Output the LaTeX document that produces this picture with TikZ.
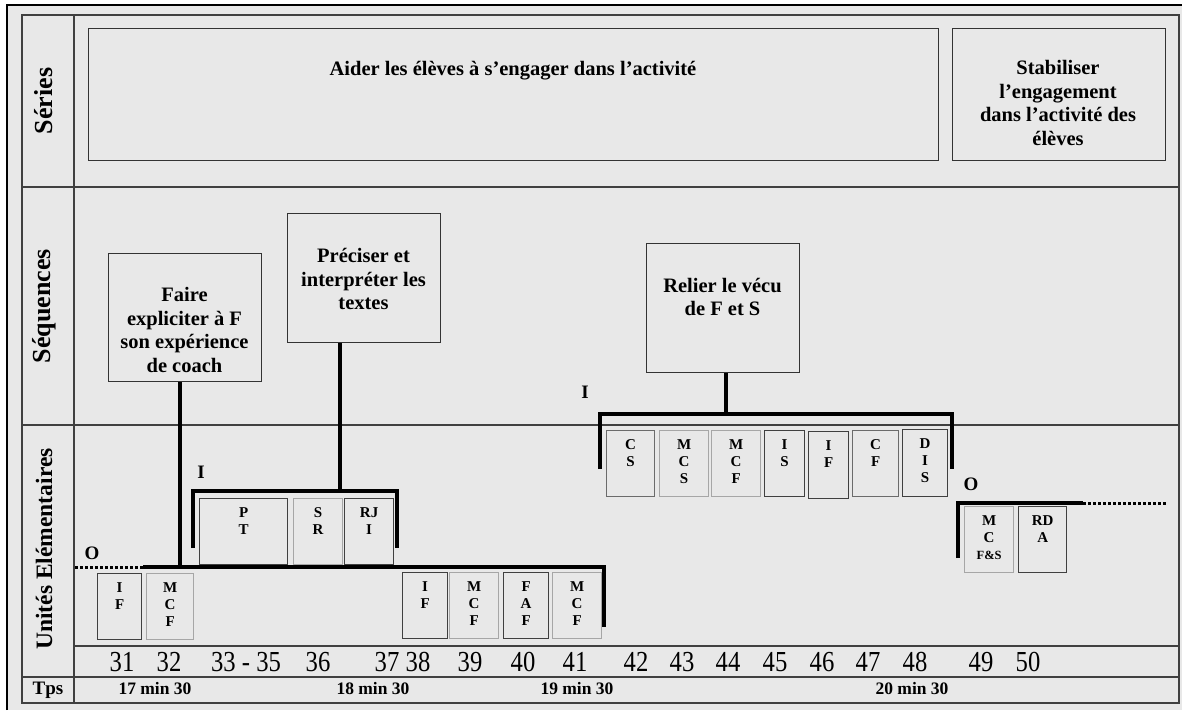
\documentclass[tikz,border=0pt]{standalone}
\usepackage{fontspec}
\usepackage{graphicx}
\setmainfont{Liberation Serif}
\definecolor{bggray}{RGB}{232,232,232}
\tikzset{
  tline/.style={draw=black!75, line width=1.3pt},
  brk/.style={line width=3.5pt, draw=black},
  dotl/.style={line width=3pt, draw=black, dash pattern=on 3pt off 2pt},
  seqbox/.style={draw=black!80, line width=1.3pt, rectangle, inner sep=0pt},
  seqtxt/.style={font=\fontsize{20.5}{23.5}\selectfont\bfseries, align=center, inner sep=0pt},
  uedark/.style={draw=black!75, line width=1.3pt, rectangle, inner sep=0pt},
  uemid/.style={draw=black!58, line width=1.3pt, rectangle, inner sep=0pt},
  uelight/.style={draw=black!35, line width=1.3pt, rectangle, inner sep=0pt},
  uetxt/.style={font=\fontsize{15}{17}\selectfont\bfseries, align=center, inner sep=0pt},
  num/.style={font=\fontsize{29}{29}\selectfont, inner sep=0pt},
  tps/.style={font=\fontsize{17.5}{17.5}\selectfont\bfseries, inner sep=0pt},
  rowlab/.style={font=\fontsize{26}{26}\selectfont\bfseries, rotate=90, inner sep=0pt},
  brklab/.style={font=\fontsize{19}{19}\selectfont\bfseries, inner sep=0pt}
}
\newcommand\uebx[7]{%
  \node[#2, minimum width={#5-#3}, minimum height={#6-#4}, anchor=north west] (#1) at (#3,#4) {};
  \node[uetxt, anchor=north] (#1t) at ([yshift=-9pt]#1.north) {#7};
}
\newcommand\boxat[6]{%
  \node[#2, minimum width={#5-#3}, minimum height={#6-#4}, anchor=north west] (#1) at (#3,#4) {};
}
\begin{document}
\begin{tikzpicture}[x=1pt,y=-1pt]
\useasboundingbox (0,0) rectangle (1182,710);
\fill[white] (0,0) rectangle (1182,710);
\fill[bggray] (7,5) rectangle (1182,710);
\draw[black, line width=2pt] (7,710) -- (7,5) -- (1182,5);

% table
\draw[tline] (22,15) rectangle (1179,703);
\draw[tline] (74,15) -- (74,703);
\draw[tline] (22,187) -- (1179,187);
\draw[tline] (22,425) -- (1179,425);
\draw[tline] (74,646) -- (1179,646);
\draw[tline] (22,677) -- (1179,677);

% row labels
\node[rowlab] (lser) at (44,101) {Séries};
\node[rowlab] (lseq) at (44,306) {Séquences};
\node[rowlab, font=\fontsize{23.5}{23.5}\selectfont\bfseries] (lue) at (44,549) {Unités Elémentaires};
\node[font=\fontsize{19}{19}\selectfont\bfseries, inner sep=0pt] (ltps) at (48,690) {Tps};

% series
\boxat{aider}{seqbox}{88}{28}{938}{160}
\node[seqtxt] (aidert) at (513,71) {Aider les élèves à s’engager dans l’activité};
\boxat{stab}{seqbox}{952}{28}{1165}{160}
\node[seqtxt] (stabt) at (1058,103) {Stabiliser\\l’engagement\\dans l’activité des\\élèves};

% sequences
\boxat{faire}{seqbox}{108}{253}{261}{381}
\node[seqtxt] (fairet) at (184.5,330) {Faire\\expliciter à F\\son expérience\\de coach};
\boxat{preciser}{seqbox}{287}{213}{440}{342}
\node[seqtxt] (preciset) at (363.5,279) {Préciser et\\interpréter les\\textes};
\boxat{relier}{seqbox}{646}{243}{799}{372}
\node[seqtxt] (reliert) at (722.5,297) {Relier le vécu\\de F et S};

% connectors and brackets
\coordinate (oJ) at (180,567);
\coordinate (oL) at (143,567);
\coordinate (oS) at (75,567);
\coordinate (oR) at (604,627);
\draw[brk] (faire.south -| oJ) -- (oJ);
\draw[dotl] (oS) -- (oL);
\draw[brk] (oL) -| (oR);

\coordinate (iJ1) at (340,491);
\coordinate (i1L) at (193,548);
\coordinate (i1R) at (397,548);
\draw[brk] (preciser.south -| iJ1) -- (iJ1);
\draw[brk] (i1L) |- (iJ1) -| (i1R);

\coordinate (iJ2) at (726,414);
\coordinate (i2L) at (600,469);
\coordinate (i2R) at (952,469);
\draw[brk] (relier.south -| iJ2) -- (iJ2);
\draw[brk] (i2L) |- (iJ2) -| (i2R);

\coordinate (o2L) at (958,558);
\coordinate (o2M) at (1083,503);
\coordinate (o2E) at (1167,503);
\draw[brk] (o2L) |- (o2M);
\draw[dotl] (o2M) -- (o2E);

\node[brklab] (lO1) at (92,553) {O};
\node[brklab] (lI1) at (201,472) {I};
\node[brklab] (lI2) at (585,392) {I};
\node[brklab] (lO2) at (971,484) {O};

% elementary units
\uebx{u31}{uedark}{97}{573}{141}{639}{I\\F}
\uebx{u32}{uelight}{146}{573}{193}{639}{M\\C\\F}
\uebx{u33}{uedark}{199}{498}{287}{564}{P\\T}
\uebx{u36}{uelight}{293}{498}{342}{564}{S\\R}
\uebx{u37}{uedark}{344}{498}{393}{564}{RJ\\I}
\uebx{u38}{uedark}{402}{572}{447}{638}{I\\F}
\uebx{u39}{uelight}{449}{572}{498}{638}{M\\C\\F}
\uebx{u40}{uedark}{503}{572}{548}{638}{F\\A\\F}
\uebx{u41}{uelight}{552}{572}{601}{638}{M\\C\\F}
\uebx{u42}{uemid}{606}{430}{654}{496}{C\\S}
\uebx{u43}{uelight}{659}{430}{708}{496}{M\\C\\S}
\uebx{u44}{uelight}{711}{430}{760}{496}{M\\C\\F}
\uebx{u45}{uedark}{764}{430}{804}{496}{I\\S}
\uebx{u46}{uedark}{808}{431}{848}{498}{I\\F}
\uebx{u47}{uemid}{852}{430}{898}{496}{C\\F}
\uebx{u48}{uedark}{902}{429}{947}{496}{D\\I\\S}
\uebx{u49}{uelight}{964}{506}{1013}{572}{M\\C\\\fontsize{12.5}{16}\selectfont F\&S}
\uebx{u50}{uedark}{1018}{506}{1066}{572}{RD\\A}

% numbers
\foreach \n/\x in {31/122,32/169,33 - 35/246,36/318,37/387,38/418,39/470,40/523,41/575,42/636,43/682,44/728,45/775,46/822,47/868,48/915,49/981,50/1028}
  \node[num] at (\x,662) {\scalebox{0.85}[1]{\n}};

% times
\node[tps] (t17) at (155,689) {17 min 30};
\node[tps] (t18) at (373,689) {18 min 30};
\node[tps] (t19) at (577,689) {19 min 30};
\node[tps] (t20) at (912,689) {20 min 30};
\end{tikzpicture}
\end{document}
